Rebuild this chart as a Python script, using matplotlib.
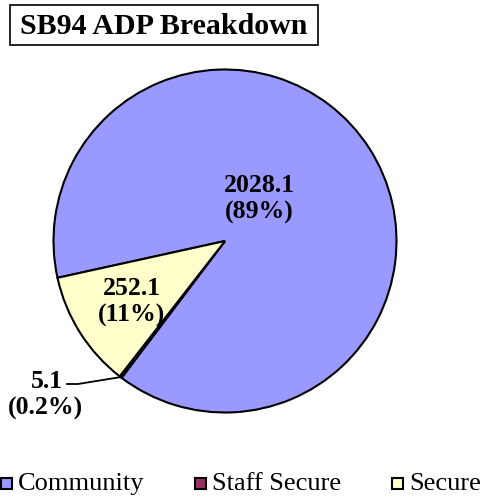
import numpy as np
import matplotlib
matplotlib.use("Agg")
import matplotlib.pyplot as plt
from matplotlib.patches import Rectangle

# data
categories = ["Community", "Staff Secure", "Secure"]
adp = [2028.1, 5.1, 252.1]
pct_labels = ["(89%)", "(0.2%)", "(11%)"]
colors = ["#9999FF", "#993366", "#FFFFCC"]

plt.rcParams['font.family'] = ['Liberation Serif', 'DejaVu Serif']

W, H = 485, 498
fig = plt.figure(figsize=(W / 100, H / 100), dpi=100)
ax = fig.add_axes([0, 0, 1, 1])

# pie in pixel coords (y up)
cx, cy, r = 225, H - 241, 171.5
wedges, _ = ax.pie(adp, colors=colors, startangle=192.4, counterclock=False,
                   center=(cx, cy), radius=r,
                   wedgeprops=dict(edgecolor="black", linewidth=1.5))
ax.set_xlim(0, W)
ax.set_ylim(0, H)
ax.set_aspect("equal")
ax.axis("off")

lab_kw = dict(fontsize=18.5, fontweight="bold", ha="center", va="center",
              linespacing=1.15)
ax.text(259, H - 199, "%.1f\n%s" % (adp[0], pct_labels[0]), **lab_kw)
ax.text(132, H - 302, "%.1f\n%s" % (adp[2], pct_labels[2]), **lab_kw)

# small slice: leader line + label
w = wedges[1]
mid = np.deg2rad((w.theta1 + w.theta2) / 2)
ex, ey = cx + r * np.cos(mid), cy + r * np.sin(mid)
ax.plot([ex, 78, 67], [ey, H - 384, H - 384], color="black", lw=1.3)
ax.text(63, H - 382, "%.1f" % adp[1], fontsize=18.5, fontweight="bold",
        ha="right", va="center")
ax.text(45, H - 408, pct_labels[1], fontsize=18.5, fontweight="bold",
        ha="center", va="center")

# boxed title
ax.add_patch(Rectangle((10, H - 45), 308, 40, fill=False, edgecolor="black",
                       lw=1.2))
ax.text(164, H - 26, "SB94 ADP Breakdown", fontsize=21.5, fontweight="bold",
        ha="center", va="center")

# legend row, laid out by hand
leg_x = [1, 195, 392]
for x, c, name in zip(leg_x, colors, categories):
    ax.add_patch(Rectangle((x, H - 489), 11, 11, facecolor=c,
                           edgecolor="black", lw=1.5))
    ax.text(x + 17, H - 484, name, fontsize=19, ha="left", va="center")

fig.savefig("out.png", dpi=100)
